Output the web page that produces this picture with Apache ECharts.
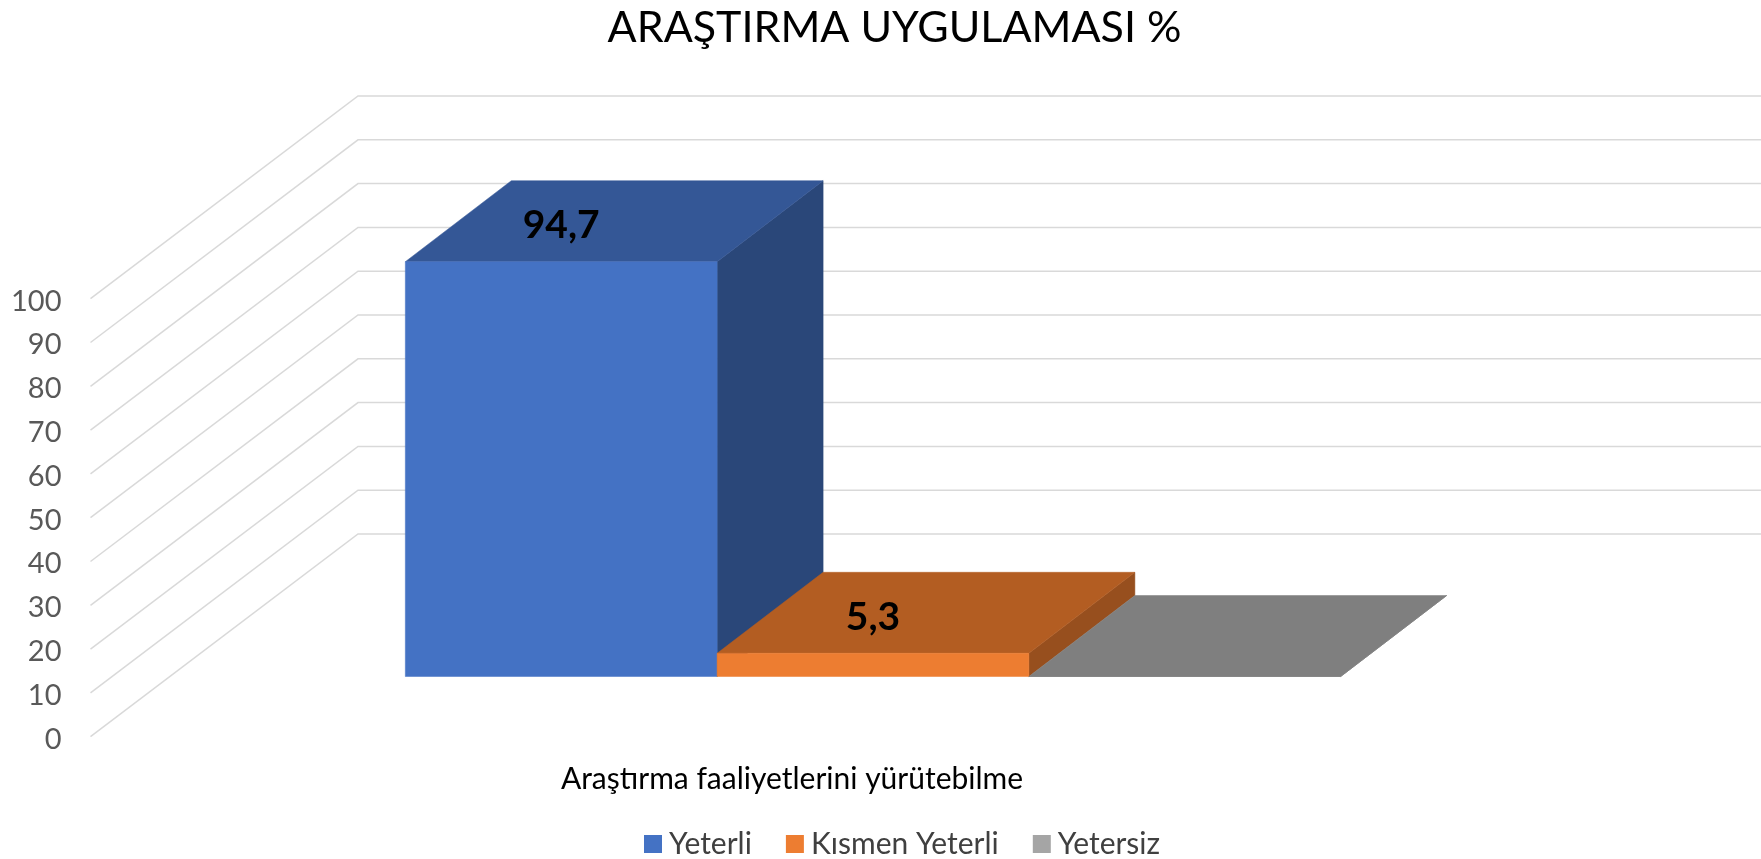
<!DOCTYPE html>
<html><head><meta charset="utf-8">
<style>html,body{margin:0;padding:0;background:#fff}#c{width:1761px;height:859px}</style>
<script src="https://cdn.jsdelivr.net/npm/echarts@6/dist/echarts.min.js"></script>
</head><body><div id="c"></div>
<script>
const titleText = 'ARAŞTIRMA UYGULAMASI %';
const categories = ['Araştırma faaliyetlerini yürütebilme'];
const yeterli = [94.7];
const kismenYeterli = [5.3];
const yetersiz = [0];
const yTicks = [0,10,20,30,40,50,60,70,80,90,100];
const seriesNames = ['Yeterli','Kısmen Yeterli','Yetersiz'];
const seriesValues = [yeterli, kismenYeterli, yetersiz];
const palette = [
  {front:'#4472C4', top:'#345796', side:'#2A4779', legend:'#4472C4'},
  {front:'#ED7D31', top:'#B35D22', side:'#974F1E', legend:'#ED7D31'},
  {front:'#7F7F7F', top:'#7F7F7F', side:'#6E6E6E', legend:'#A5A5A5'}
];
const FONT = 'Lato';
const WALL = {dx:267.5, dy:-202.7};      // depth from front plane to back wall
const PLANE = {dx:81, dy:-60.2};         // bars' front face inside the box
const DEPTH = {dx:106, dy:-81};          // bar depth
const BAND = 4.5;                        // 3 bars + 150% gap

function poly(points, fill){
  return {type:'polygon', shape:{points}, style:{fill, stroke:fill, lineWidth:0.5}};
}
function barItem(i){
  return function(params, api){
    const c = api.coord([api.value(0), api.value(1)]);
    const base = api.coord([api.value(0), 0]);
    const w = api.size([1,0])[0] / BAND;
    const x0 = c[0] + (i-1.5)*w + PLANE.dx, x1 = x0 + w;
    const yb = base[1] + PLANE.dy, yt = c[1] + PLANE.dy;
    const d = DEPTH, col = palette[i];
    const children = [
      poly([[x1,yb],[x1+d.dx,yb+d.dy],[x1+d.dx,yt+d.dy],[x1,yt]], col.side),
      poly([[x0,yt],[x0+d.dx,yt+d.dy],[x1+d.dx,yt+d.dy],[x1,yt]], col.top),
      poly([[x0,yb],[x1,yb],[x1,yt],[x0,yt]], col.front)
    ];
    const v = api.value(1);
    if (v > 0) children.push({type:'text', style:{
      text:String(v).replace('.',','), x:(x0+x1)/2, y:yt-36, align:'center', verticalAlign:'middle',
      font:'bold 39px '+FONT, fill:'#000'}});
    return {type:'group', children};
  };
}
function gridItem(params, api){
  const p = api.coord([0, api.value(0)]);
  const left = params.coordSys.x, right = left + params.coordSys.width;
  const y = p[1];
  return {type:'polyline', shape:{points:[[left,y],[left+WALL.dx,y+WALL.dy],[right+WALL.dx,y+WALL.dy]]},
    style:{fill:null, stroke:'#D9D9D9', lineWidth:1.5}};
}
const chart = echarts.init(document.getElementById('c'), null, {renderer:'canvas'});
chart.setOption({
  animation:false,
  backgroundColor:'#fff',
  title:{text:titleText, left:889.5, top:2, textAlign:'center',
    textStyle:{fontFamily:FONT, fontSize:43, fontWeight:'normal', color:'#000'}},
  legend:{data:seriesNames, left:644, top:829, padding:0, itemWidth:18, itemHeight:18, itemGap:34, icon:'rect',
    textStyle:{fontFamily:FONT, fontSize:30, color:'#404040', padding:[0,0,0,2]}},
  grid:{left:90.5, top:298.7, width:1403, height:438, containLabel:false},
  xAxis:{type:'category', data:categories, axisLine:{show:false}, axisTick:{show:false},
    axisLabel:{fontFamily:FONT, fontSize:30, color:'#000', margin:28}},
  yAxis:{type:'value', min:0, max:100, interval:10, splitLine:{show:false}, axisLine:{show:false}, axisTick:{show:false},
    axisLabel:{fontFamily:FONT, fontSize:29, color:'#595959', margin:29, verticalAlign:'top', lineHeight:5}},
  series:[
    {type:'custom', name:'_grid', silent:true, clip:false, z:1, renderItem:gridItem, encode:{y:0},
      data:yTicks.map(v=>[v])}
  ].concat(seriesNames.map((n,i)=>({
    type:'custom', name:n, clip:false, z:2+i, renderItem:barItem(i),
    itemStyle:{color:palette[i].legend}, encode:{x:0,y:1},
    data:seriesValues[i].map((v,k)=>[k,v])
  })))
});
</script></body></html>
